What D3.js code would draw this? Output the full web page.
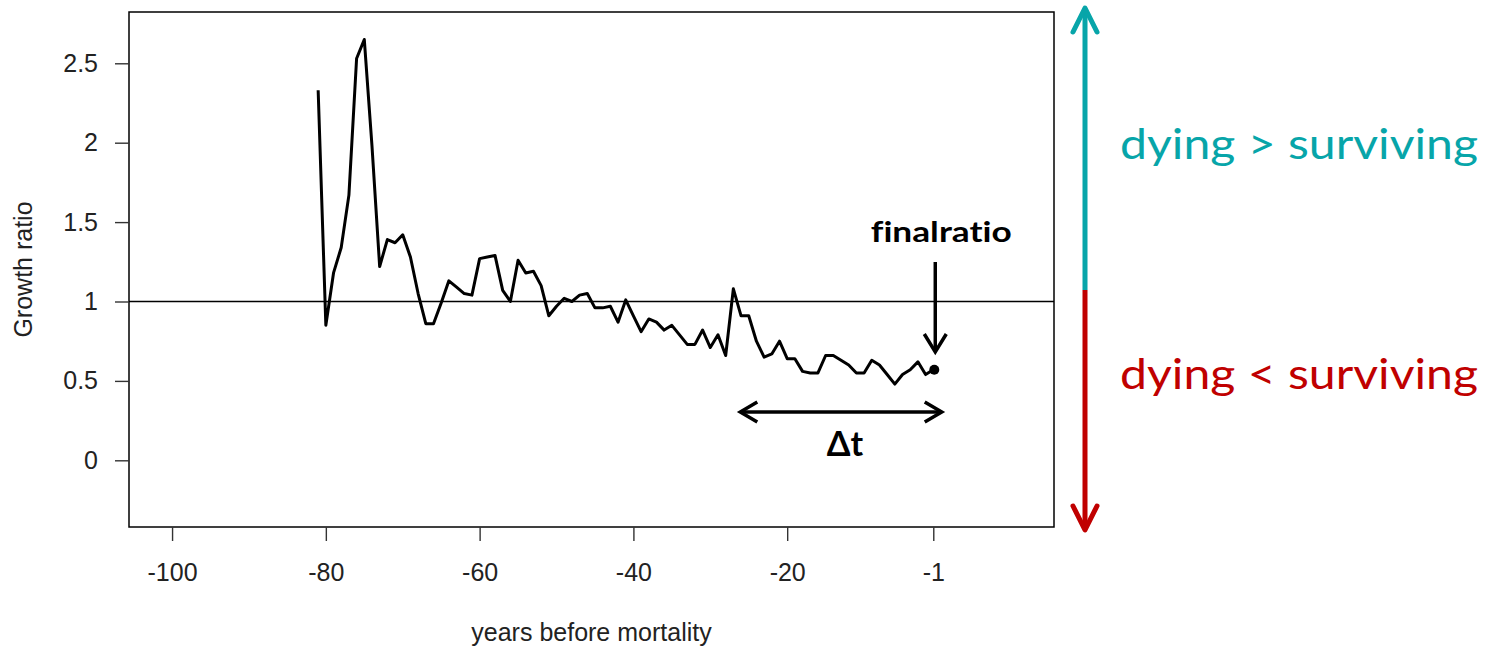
<!DOCTYPE html>
<html><head><meta charset="utf-8">
<script src="https://cdn.jsdelivr.net/npm/d3@7"></script>
<style>body{margin:0;background:#fff;} svg{display:block;} text{font-variant-ligatures:none;font-feature-settings:"liga" 0;}</style>
</head><body>
<svg id="chart" width="1485" height="649"></svg>
<script>
// ---- data ----
const years = [-81,-80,-79,-78,-77,-76,-75,-74,-73,-72,-71,-70,-69,-68,-67,-66,-65,-64,-63,-62,-61,
  -60,-59,-58,-57,-56,-55,-54,-53,-52,-51,-50,-49,-48,-47,-46,-45,-44,-43,-42,-41,
  -40,-39,-38,-37,-36,-35,-34,-33,-32,-31,-30,-29,-28,-27,-26,-25,-24,-23,-22,-21,
  -20,-19,-18,-17,-16,-15,-14,-13,-12,-11,-10,-9,-8,-7,-6,-5,-4,-3,-2,-1];
const growthRatio = [2.33,0.85,1.18,1.34,1.67,2.53,2.65,1.98,1.22,1.39,1.37,1.42,1.28,1.05,0.86,0.86,0.99,1.13,1.09,1.05,1.04,
  1.27,1.28,1.29,1.07,1.00,1.26,1.18,1.19,1.10,0.91,0.97,1.02,1.00,1.04,1.05,0.96,0.96,0.97,0.87,1.01,
  0.91,0.81,0.89,0.87,0.82,0.85,0.79,0.73,0.73,0.82,0.71,0.79,0.66,1.08,0.91,0.91,0.75,0.65,0.67,0.75,
  0.64,0.64,0.56,0.55,0.55,0.66,0.66,0.63,0.60,0.55,0.55,0.63,0.60,0.54,0.48,0.54,0.57,0.62,0.54,0.57];
const xTicks = [-100,-80,-60,-40,-20,-1];
const yTicks = [0,0.5,1,1.5,2,2.5];
const xDomain = [-105.6, 14.7];
const yDomain = [-0.42, 2.823];
const refValue = 1;
const xTitle = "years before mortality";
const yTitle = "Growth ratio";
const finalLabel = "finalratio";
const deltaLabel = "\u0394t";
const deltaRange = [-26.1, 0.1];
const upLabel = "dying > surviving";
const downLabel = "dying < surviving";

// ---- layout ----
const svg = d3.select("#chart");
const L = 129, R = 1054, T = 12, B = 527;
const x = d3.scaleLinear().domain(xDomain).range([L, R]);
const y = d3.scaleLinear().domain(yDomain).range([B, T]);
const axisFont = "'Liberation Sans', Arial, sans-serif";
const annFont = "Lato, 'Open Sans', sans-serif";
const fs = 25;

// frame
svg.append("rect").attr("x", L).attr("y", T).attr("width", R - L).attr("height", B - T)
  .attr("fill", "none").attr("stroke", "#000").attr("stroke-width", 1.5);

// axes
const gx = svg.append("g").attr("transform", `translate(0,${B})`)
  .call(d3.axisBottom(x).tickValues(xTicks).tickSize(14).tickPadding(22).tickFormat(d => String(d)));
const gy = svg.append("g").attr("transform", `translate(${L},0)`)
  .call(d3.axisLeft(y).tickValues(yTicks).tickSize(14).tickPadding(17).tickFormat(d => String(d)));
[gx, gy].forEach(g => {
  g.select(".domain").remove();
  g.selectAll("line").attr("stroke", "#333").attr("stroke-width", 1.4);
  g.selectAll("text").attr("font-family", axisFont).attr("font-size", fs).attr("fill", "#222");
});

svg.append("text").attr("x", (L + R) / 2).attr("y", 641).attr("text-anchor", "middle")
  .attr("font-family", axisFont).attr("font-size", fs).attr("fill", "#222").text(xTitle);
svg.append("text").attr("transform", `translate(32,${(T + B) / 2}) rotate(-90)`).attr("text-anchor", "middle")
  .attr("font-family", axisFont).attr("font-size", fs).attr("fill", "#222").text(yTitle);

// reference line
svg.append("line").attr("x1", L).attr("x2", R).attr("y1", y(refValue)).attr("y2", y(refValue))
  .attr("stroke", "#000").attr("stroke-width", 1.4);

// series
const pts = years.map((yr, i) => ({ yr, v: growthRatio[i] }));
svg.append("path").datum(pts)
  .attr("d", d3.line().x(d => x(d.yr)).y(d => y(d.v)))
  .attr("fill", "none").attr("stroke", "#000").attr("stroke-width", 3).attr("stroke-linejoin", "round");
const last = pts[pts.length - 1];
svg.append("circle").attr("cx", x(last.yr) + 1).attr("cy", y(last.v)).attr("r", 5).attr("fill", "#000");

// finalratio annotation
const fx = x(last.yr) + 2;
svg.append("text").attr("x", fx + 6).attr("y", 242).attr("text-anchor", "middle")
  .attr("font-family", annFont).attr("font-weight", "bold").attr("font-size", 28)
  .attr("textLength", 141).attr("lengthAdjust", "spacingAndGlyphs").attr("fill", "#000").text(finalLabel);
svg.append("line").attr("x1", fx).attr("x2", fx).attr("y1", 262).attr("y2", 351)
  .attr("stroke", "#000").attr("stroke-width", 3.5);
svg.append("path").attr("d", `M${fx - 11},${334} L${fx},${352} L${fx + 11},${334}`)
  .attr("fill", "none").attr("stroke", "#000").attr("stroke-width", 3.5);

// delta t annotation
const dy = 412, dx0 = x(deltaRange[0]), dx1 = x(deltaRange[1]);
svg.append("line").attr("x1", dx0 + 1).attr("x2", dx1 - 1).attr("y1", dy).attr("y2", dy)
  .attr("stroke", "#000").attr("stroke-width", 3.5);
svg.append("path").attr("d", `M${dx0 + 17},${dy - 10} L${dx0},${dy} L${dx0 + 17},${dy + 10}`)
  .attr("fill", "none").attr("stroke", "#000").attr("stroke-width", 3.5);
svg.append("path").attr("d", `M${dx1 - 17},${dy - 10} L${dx1},${dy} L${dx1 - 17},${dy + 10}`)
  .attr("fill", "none").attr("stroke", "#000").attr("stroke-width", 3.5);
svg.append("text").attr("x", (dx0 + dx1) / 2 + 4).attr("y", 456).attr("text-anchor", "middle")
  .attr("font-family", annFont).attr("font-weight", "bold").attr("font-size", 34)
  .attr("fill", "#000").text(deltaLabel);

// side arrow
const teal = "#07A5A9", red = "#C00000";
const sx = 1085, sTop = 8, sMid = 290, sBot = 530;
svg.append("line").attr("x1", sx).attr("x2", sx).attr("y1", sTop + 2).attr("y2", sMid)
  .attr("stroke", teal).attr("stroke-width", 5);
svg.append("path").attr("d", `M${sx - 12},${sTop + 24} L${sx},${sTop} L${sx + 12},${sTop + 24}`)
  .attr("fill", "none").attr("stroke", teal).attr("stroke-width", 5).attr("stroke-linecap", "round").attr("stroke-linejoin", "round");
svg.append("line").attr("x1", sx).attr("x2", sx).attr("y1", sMid).attr("y2", sBot - 2)
  .attr("stroke", red).attr("stroke-width", 5);
svg.append("path").attr("d", `M${sx - 12},${sBot - 24} L${sx},${sBot} L${sx + 12},${sBot - 24}`)
  .attr("fill", "none").attr("stroke", red).attr("stroke-width", 5).attr("stroke-linecap", "round").attr("stroke-linejoin", "round");

svg.append("text").attr("x", 1120).attr("y", 159).attr("font-family", annFont).attr("font-size", 43)
  .attr("textLength", 358).attr("lengthAdjust", "spacingAndGlyphs").attr("fill", teal).text(upLabel);
svg.append("text").attr("x", 1120).attr("y", 389).attr("font-family", annFont).attr("font-size", 43)
  .attr("textLength", 358).attr("lengthAdjust", "spacingAndGlyphs").attr("fill", red).text(downLabel);
</script>
</body></html>
